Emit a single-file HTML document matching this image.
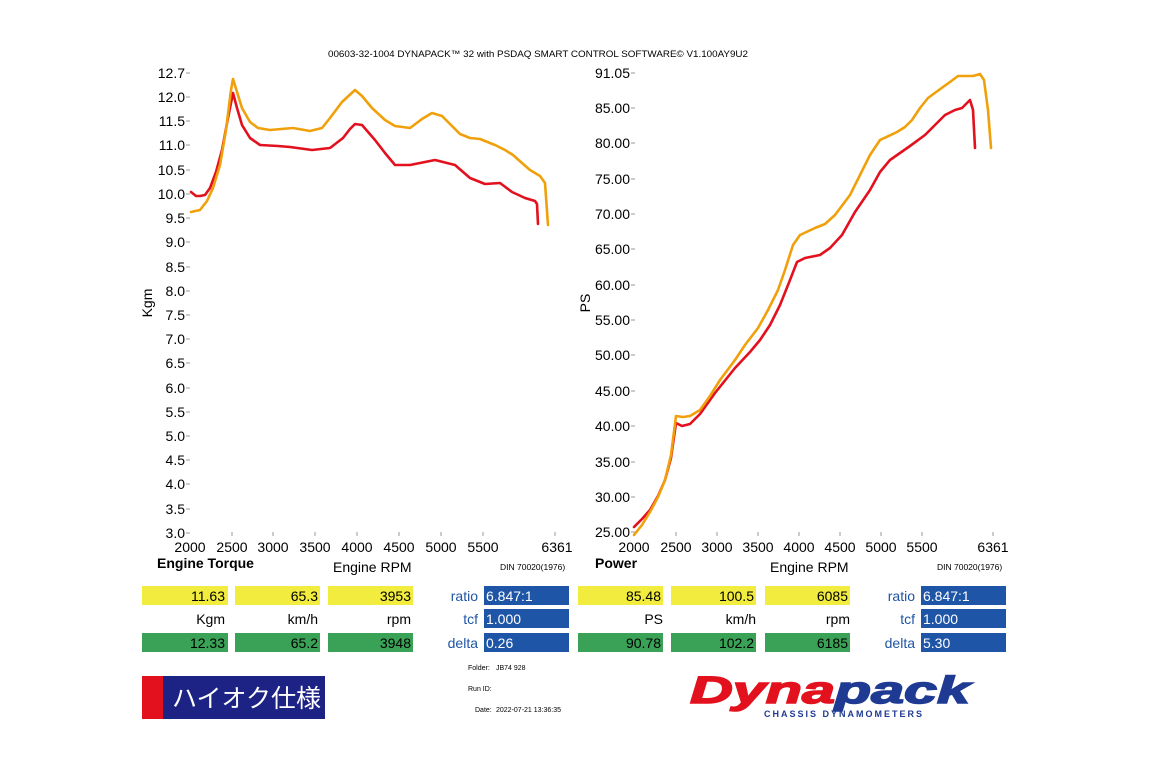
<!DOCTYPE html>
<html><head><meta charset="utf-8"><style>
body{margin:0;background:#fff;}
svg{display:block;font-family:"Liberation Sans","Noto Sans CJK JP",sans-serif;}
</style></head><body>
<svg width="1150" height="765" viewBox="0 0 1150 765" xmlns="http://www.w3.org/2000/svg">
<text x="538" y="57" font-size="9.2" text-anchor="middle" fill="#000" textLength="420" lengthAdjust="spacingAndGlyphs">00603-32-1004 DYNAPACK™ 32 with PSDAQ SMART CONTROL SOFTWARE© V1.100AY9U2</text>
<g font-size="14" fill="#000" text-anchor="end">
<text x="185" y="78">12.7</text><text x="185" y="102">12.0</text><text x="185" y="126">11.5</text><text x="185" y="150">11.0</text><text x="185" y="175">10.5</text><text x="185" y="199">10.0</text><text x="185" y="223">9.5</text><text x="185" y="247">9.0</text><text x="185" y="272">8.5</text><text x="185" y="296">8.0</text><text x="185" y="320">7.5</text><text x="185" y="344">7.0</text><text x="185" y="368">6.5</text><text x="185" y="393">6.0</text><text x="185" y="417">5.5</text><text x="185" y="441">5.0</text><text x="185" y="465">4.5</text><text x="185" y="489">4.0</text><text x="185" y="514">3.5</text><text x="185" y="538">3.0</text>
</g>
<g stroke="#999" stroke-width="1">
<path d="M186 73h4M186 97h4M186 121h4M186 145h4M186 170h4M186 194h4M186 218h4M186 242h4M186 267h4M186 291h4M186 315h4M186 339h4M186 363h4M186 388h4M186 412h4M186 436h4M186 460h4M186 484h4M186 509h4M186 533h4"/>
<path d="M232 532v4M273 532v4M315 532v4M357 532v4M399 532v4M441 532v4M483 532v4M555 532v4"/>
<path d="M631 73h4M631 108h4M631 143h4M631 179h4M631 214h4M631 249h4M631 285h4M631 320h4M631 355h4M631 391h4M631 426h4M631 462h4M631 497h4M631 532h4"/>
<path d="M676 532v4M717 532v4M758 532v4M799 532v4M840 532v4M881 532v4M922 532v4M993 532v4"/>
</g>
<text x="152" y="303" font-size="14" transform="rotate(-90 152 303)" text-anchor="middle">Kgm</text>
<g font-size="14" text-anchor="middle">
<text x="190" y="552">2000</text><text x="232" y="552">2500</text><text x="273" y="552">3000</text><text x="315" y="552">3500</text><text x="357" y="552">4000</text><text x="399" y="552">4500</text><text x="441" y="552">5000</text><text x="483" y="552">5500</text><text x="557" y="552">6361</text>
</g>
<text x="157" y="568" font-size="14" font-weight="bold">Engine Torque</text>
<text x="333" y="572" font-size="14">Engine RPM</text>
<text x="500" y="570" font-size="8.5">DIN 70020(1976)</text>

<g font-size="14" fill="#000" text-anchor="end">
<text x="630" y="78">91.05</text><text x="630" y="113">85.00</text><text x="630" y="148">80.00</text><text x="630" y="184">75.00</text><text x="630" y="219">70.00</text><text x="630" y="254">65.00</text><text x="630" y="290">60.00</text><text x="630" y="325">55.00</text><text x="630" y="360">50.00</text><text x="630" y="396">45.00</text><text x="630" y="431">40.00</text><text x="630" y="467">35.00</text><text x="630" y="502">30.00</text><text x="630" y="537">25.00</text>
</g>
<text x="590" y="303" font-size="14" transform="rotate(-90 590 303)" text-anchor="middle">PS</text>
<g font-size="14" text-anchor="middle">
<text x="634" y="552">2000</text><text x="676" y="552">2500</text><text x="717" y="552">3000</text><text x="758" y="552">3500</text><text x="799" y="552">4000</text><text x="840" y="552">4500</text><text x="881" y="552">5000</text><text x="922" y="552">5500</text><text x="993" y="552">6361</text>
</g>
<text x="595" y="568" font-size="14" font-weight="bold">Power</text>
<text x="770" y="572" font-size="14">Engine RPM</text>
<text x="937" y="570" font-size="8.5">DIN 70020(1976)</text>

<g fill="none" stroke-width="2.6" stroke-linejoin="round" stroke-linecap="round">
<polyline stroke="#e3101e" points="191,192 196,196 200,196 205,195 210,188 216,172 222,150 228,118 233,93 237,108 242,125 250,138 260,145 278,146 290,147 312,150 330,148 343,138 350,129 355,124 362,125 375,140 385,153 395,165 410,165 435,160 455,165 470,178 485,184 500,183 512,192 525,198 535,201 537,204 538,224"/>
<polyline stroke="#f0a00a" points="191,212 200,210 207,201 213,188 220,165 226,130 231,90 233,79 237,92 242,108 250,122 258,128 270,130 293,128 310,131 322,128 330,118 342,102 355,90 362,96 372,108 385,120 395,126 410,128 422,119 432,113 442,116 452,126 460,134 470,138 480,139 495,145 505,150 513,155 522,163 530,170 540,176 545,183 548,225"/>
<polyline stroke="#e3101e" points="634,527 642,519 650,510 658,496 665,480 671,458 676,423 682,426 690,424 700,414 715,393 735,368 750,352 760,340 770,325 780,305 790,280 797,262 805,258 820,255 830,248 842,235 855,212 870,190 880,172 890,160 900,153 910,146 925,135 935,125 945,115 955,110 962,108 970,100 973,110 975,148"/>
<polyline stroke="#f0a00a" points="634,535 642,525 650,512 658,497 665,480 671,455 676,416 683,417 690,416 700,410 710,396 720,380 735,360 745,345 758,328 768,310 778,290 785,270 793,245 800,235 815,228 825,224 835,215 850,195 860,175 870,155 880,140 897,132 905,127 912,120 920,108 928,98 943,87 950,82 958,76 973,76 980,74 984,80 988,110 991,148"/>
</g>

<g font-size="14" text-anchor="end">
<rect x="142" y="586" width="86" height="19" fill="#f1ec3d"/><text x="225" y="601">11.63</text>
<rect x="235" y="586" width="85" height="19" fill="#f1ec3d"/><text x="318" y="601">65.3</text>
<rect x="328" y="586" width="85" height="19" fill="#f1ec3d"/><text x="411" y="601">3953</text>
<text x="225" y="624">Kgm</text><text x="318" y="624">km/h</text><text x="411" y="624">rpm</text>
<rect x="142" y="633" width="86" height="19" fill="#3aa257"/><text x="225" y="648">12.33</text>
<rect x="235" y="633" width="85" height="19" fill="#3aa257"/><text x="318" y="648">65.2</text>
<rect x="328" y="633" width="85" height="19" fill="#3aa257"/><text x="411" y="648">3948</text>
<g fill="#1f55a6"><text x="478" y="601">ratio</text><text x="478" y="624">tcf</text><text x="478" y="648">delta</text></g>
<rect x="484" y="586" width="85" height="19" fill="#1f55a6"/><rect x="484" y="609" width="85" height="19" fill="#1f55a6"/><rect x="484" y="633" width="85" height="19" fill="#1f55a6"/>
<g fill="#fff" text-anchor="start"><text x="486" y="601">6.847:1</text><text x="486" y="624">1.000</text><text x="486" y="648">0.26</text></g>

<rect x="578" y="586" width="85" height="19" fill="#f1ec3d"/><text x="661" y="601">85.48</text>
<rect x="671" y="586" width="85" height="19" fill="#f1ec3d"/><text x="754" y="601">100.5</text>
<rect x="765" y="586" width="85" height="19" fill="#f1ec3d"/><text x="848" y="601">6085</text>
<text x="663" y="624">PS</text><text x="756" y="624">km/h</text><text x="850" y="624">rpm</text>
<rect x="578" y="633" width="85" height="19" fill="#3aa257"/><text x="661" y="648">90.78</text>
<rect x="671" y="633" width="85" height="19" fill="#3aa257"/><text x="754" y="648">102.2</text>
<rect x="765" y="633" width="85" height="19" fill="#3aa257"/><text x="848" y="648">6185</text>
<g fill="#1f55a6"><text x="915" y="601">ratio</text><text x="915" y="624">tcf</text><text x="915" y="648">delta</text></g>
<rect x="921" y="586" width="85" height="19" fill="#1f55a6"/><rect x="921" y="609" width="85" height="19" fill="#1f55a6"/><rect x="921" y="633" width="85" height="19" fill="#1f55a6"/>
<g fill="#fff" text-anchor="start"><text x="923" y="601">6.847:1</text><text x="923" y="624">1.000</text><text x="923" y="648">5.30</text></g>
</g>

<g font-size="7" fill="#000">
<text x="468" y="670">Folder:</text><text x="496" y="670">JB74 928</text>
<text x="468" y="691">Run ID:</text>
<text x="475" y="712">Date:</text><text x="496" y="712">2022-07-21 13:36:35</text>
</g>

<rect x="142" y="676" width="21" height="43" fill="#e3101e"/>
<rect x="163" y="676" width="162" height="43" fill="#1c2384"/>
<text x="172" y="707" font-size="25" fill="#fff" font-family="Liberation Sans,'Noto Sans CJK JP',sans-serif">ハイオク仕様</text>

<text x="690" y="703" font-size="38" font-weight="bold" font-style="italic" fill="#e3101e" stroke="#e3101e" stroke-width="1.5" font-family="Liberation Sans,sans-serif" textLength="280" lengthAdjust="spacingAndGlyphs">Dyna<tspan fill="#1f3a93" stroke="#1f3a93">pack</tspan></text>
<text x="764" y="717" font-size="9" font-weight="bold" fill="#1f3a93" letter-spacing="2">CHASSIS  DYNAMOMETERS</text>
</svg>
</body></html>
